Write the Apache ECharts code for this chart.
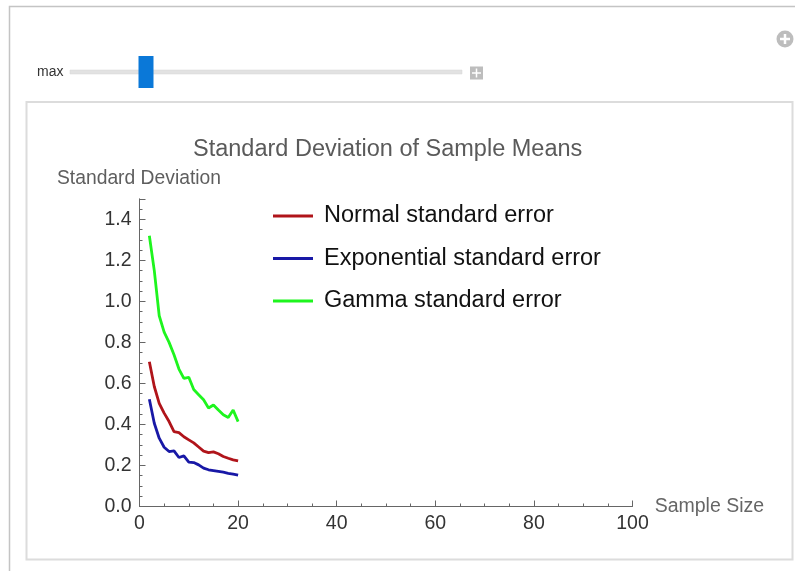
<!DOCTYPE html>
<html><head><meta charset="utf-8">
<script src="https://cdn.jsdelivr.net/npm/echarts@6/dist/echarts.min.js"></script>
<style>html,body{margin:0;padding:0;background:#fff;}#c{width:795px;height:571px;}</style>
</head><body><div id="c"></div>
<script>
const sampleSizes = [2,3,4,5,6,7,8,9,10,11,12,13,14,15,16,17,18,19,20];
const normalSE = [0.706,0.585,0.503,0.455,0.414,0.365,0.36,0.34,0.325,0.31,0.29,0.27,0.263,0.266,0.257,0.244,0.235,0.227,0.222];
const exponentialSE = [0.523,0.406,0.333,0.289,0.268,0.271,0.239,0.247,0.216,0.214,0.203,0.187,0.179,0.175,0.171,0.167,0.162,0.158,0.153];
const gammaSE = [1.32,1.15,0.93,0.85,0.80,0.74,0.67,0.625,0.63,0.57,0.545,0.52,0.48,0.495,0.47,0.447,0.434,0.47,0.414];
const seriesNames = ['Normal standard error','Exponential standard error','Gamma standard error'];
const xTickLabels = ['0','20','40','60','80','100'];
const yTickLabels = ['0.0','0.2','0.4','0.6','0.8','1.0','1.2','1.4'];
const titleText = 'Standard Deviation of Sample Means';
const xAxisName = 'Sample Size';
const yAxisName = 'Standard Deviation';

const FONT = '"Liberation Sans", Arial, sans-serif';
const colors = ['#b0141a', '#1818a6', '#1ef51e'];
const pairs = arr => sampleSizes.map((n, i) => [n, arr[i]]);

const chart = echarts.init(document.getElementById('c'), null, {renderer: 'canvas'});
const axisColor = '#666';
chart.setOption({
  animation: false,
  backgroundColor: '#fff',
  title: {
    text: titleText, left: 193, top: 136, padding: 0,
    textStyle: {fontFamily: FONT, fontSize: 23.5, fontWeight: 'normal', color: '#5a5a5a', lineHeight: 28}
  },
  legend: {
    orient: 'vertical', left: 273, top: 204, padding: 0,
    itemWidth: 40, itemHeight: 3, itemGap: 18.5, icon: 'rect',
    textStyle: {fontFamily: FONT, fontSize: 23.5, color: '#111', lineHeight: 23.5, padding: [0,0,0,6]},
    data: seriesNames
  },
  grid: {left: 139.5, right: 162.5, top: 198.8, bottom: 64.5, containLabel: false},
  xAxis: {
    type: 'value', min: 0, max: 100, interval: 20,
    name: xAxisName, nameLocation: 'end', nameGap: 16,
    nameTextStyle: {fontFamily: FONT, fontSize: 19.5, color: '#666', verticalAlign: 'middle'},
    axisLine: {show: true, lineStyle: {color: axisColor, width: 1}},
    axisTick: {show: true, inside: true, length: 6, lineStyle: {color: axisColor}},
    minorTick: {show: true, splitNumber: 4, length: 3, lineStyle: {color: axisColor}},
    splitLine: {show: false},
    axisLabel: {fontFamily: FONT, fontSize: 19.5, color: '#333', margin: 7,
      formatter: v => xTickLabels[Math.round(v / 20)] ?? ''}
  },
  yAxis: {
    type: 'value', min: 0, max: 1.5, interval: 0.2,
    axisLine: {show: true, lineStyle: {color: axisColor, width: 1}},
    axisTick: {show: true, inside: true, length: 6, lineStyle: {color: axisColor}},
    minorTick: {show: true, splitNumber: 4, length: 3, lineStyle: {color: axisColor}},
    splitLine: {show: false},
    axisLabel: {fontFamily: FONT, fontSize: 19.5, color: '#333', margin: 8, showMaxLabel: false,
      formatter: v => { const i = Math.round(v / 0.2); return Math.abs(v - i*0.2) < 1e-6 ? (yTickLabels[i] ?? '') : ''; }}
  },
  series: [normalSE, exponentialSE, gammaSE].map((arr, i) => ({
    name: seriesNames[i], type: 'line', data: pairs(arr),
    symbol: 'none', smooth: false,
    lineStyle: {color: colors[i], width: 2.8},
    itemStyle: {color: colors[i]}
  })),
  graphic: [
    {type: 'polyline', shape: {points: [[9.5, 571], [9.5, 6.5], [795, 6.5]]}, style: {stroke: '#c4c4c4', lineWidth: 1.5, fill: null}},
    {type: 'rect', shape: {x: 26.5, y: 102, width: 766, height: 457.5}, style: {stroke: '#dcdcdc', lineWidth: 2, fill: null}},
    {type: 'text', x: 37, y: 72, style: {text: 'max', fontFamily: FONT, fontSize: 14, fill: '#333', textVerticalAlign: 'middle'}},
    {type: 'rect', shape: {x: 70, y: 70, width: 392, height: 4}, style: {fill: '#e2e2e2', stroke: '#d4d4d4', lineWidth: 0.5}},
    {type: 'rect', shape: {x: 138.5, y: 56, width: 15, height: 32}, style: {fill: '#0a78d8'}},
    {type: 'rect', shape: {x: 470, y: 66.5, width: 13, height: 13}, style: {fill: '#bdbdbd'}},
    {type: 'line', shape: {x1: 476.5, y1: 68.5, x2: 476.5, y2: 77.5}, style: {stroke: '#fff', lineWidth: 1.5}},
    {type: 'line', shape: {x1: 472, y1: 73, x2: 481, y2: 73}, style: {stroke: '#fff', lineWidth: 1.5}},
    {type: 'circle', shape: {cx: 785, cy: 39, r: 8.5}, style: {fill: '#bdbdbd'}},
    {type: 'line', shape: {x1: 785, y1: 34, x2: 785, y2: 44}, style: {stroke: '#fff', lineWidth: 2.5}},
    {type: 'line', shape: {x1: 780, y1: 39, x2: 790, y2: 39}, style: {stroke: '#fff', lineWidth: 2.5}},
    {type: 'text', x: 57, y: 178.5, style: {text: yAxisName, fontFamily: FONT, fontSize: 19.3, fill: '#5e5e5e', textVerticalAlign: 'middle'}}
  ]
});
</script></body></html>
